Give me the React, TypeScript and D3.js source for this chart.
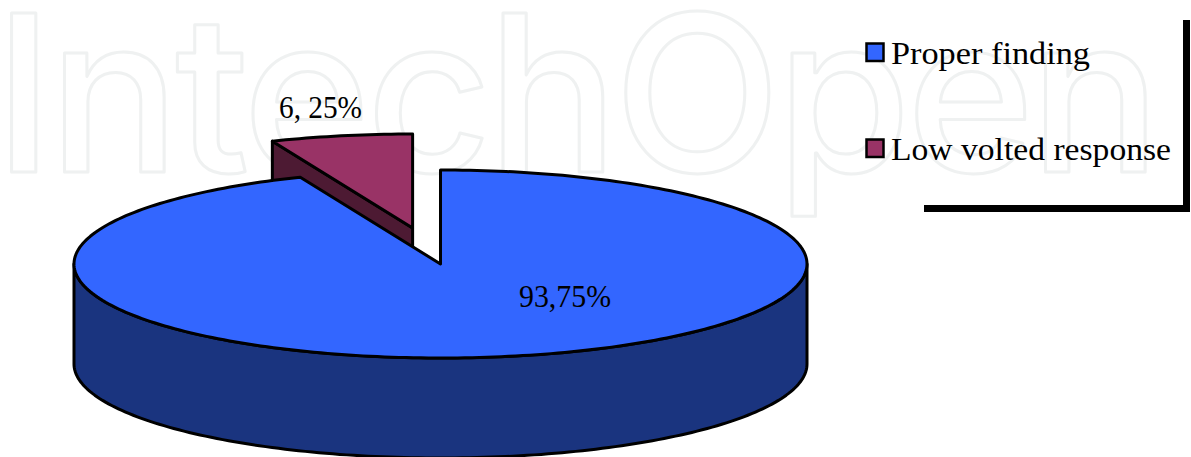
import React from "react";
import * as d3 from "d3";

const categories = ["Proper finding", "Low volted response"];
const values = [93.75, 6.25];
const sliceLabels = ["93,75%", "6, 25%"];
const topColors = ["#3366FF", "#993366"];
const sideColors = ["#1A347F", "#4D1A33"];
const watermark = "IntechOpen";

const W = 1191, H = 457;
const cx = 440.5, cy = 264, rx = 366.5, ry = 94, depth = 100, explode = 0.39;

const pieGen = d3.pie<number>().sort(null).startAngle(0).endAngle(2 * Math.PI);
const arcs = pieGen(values);

const px = d3.scaleLinear().domain([-1, 1]).range([cx - rx, cx + rx]);
const py = d3.scaleLinear().domain([-1, 1]).range([cy - ry, cy + ry]);
const line = d3.line<[number, number]>();

type Pt = [number, number];
const onRim = (a: number, ox: number, oy: number, dz = 0): Pt => [px(Math.sin(a)) + ox, py(-Math.cos(a)) + oy + dz];
const sample = (a0: number, a1: number) => {
  const n = Math.max(2, Math.ceil(Math.abs(a1 - a0) / 0.02));
  return d3.range(n + 1).map((i) => a0 + ((a1 - a0) * i) / n);
};

const blue = arcs[0], red = arcs[1];
const redMid = (red.startAngle + red.endAngle) / 2;
const ox = explode * rx * Math.sin(redMid);
const oy = -explode * ry * Math.cos(redMid);

const wedge = (a0: number, a1: number, dx: number, dy: number): string => {
  const pts: Pt[] = [[cx + dx, cy + dy], ...sample(a0, a1).map((a) => onRim(a, dx, dy))];
  return line(pts) + "Z";
};
const blueSide = (): string => {
  const angs = sample(Math.PI / 2, (3 * Math.PI) / 2);
  const pts: Pt[] = [...angs.map((a) => onRim(a, 0, 0)), ...angs.slice().reverse().map((a) => onRim(a, 0, 0, depth))];
  return line(pts) + "Z";
};
const redSide = (): string => {
  const e = onRim(red.startAngle, ox, oy);
  const pts: Pt[] = [[cx + ox, cy + oy], e, [e[0], e[1] + depth], [cx + ox, cy + oy + depth]];
  return line(pts) + "Z";
};

const serif = "'Liberation Serif', serif";
const legendY = [52.5, 148.5];
const legendTextWidth = [199, 280];

export default function App() {
  return (
    <svg width={W} height={H} viewBox={`0 0 ${W} ${H}`} style={{ position: "absolute", left: 0, top: 0, display: "block", background: "#fff" }}>
      <text x={-6} y={172} fontFamily="Inter, sans-serif" fontWeight={500} fontSize={218} fill="none" stroke="#EFF1F1" strokeWidth={3} strokeLinejoin="round" textLength={1167} lengthAdjust="spacing">
        {watermark}
      </text>

      <path d={redSide()} fill={sideColors[1]} stroke="#000" strokeWidth={3} strokeLinejoin="round" />
      <path d={wedge(red.startAngle, red.endAngle, ox, oy)} fill={topColors[1]} stroke="#000" strokeWidth={3} strokeLinejoin="round" />
      <path d={blueSide()} fill={sideColors[0]} stroke="#000" strokeWidth={3} strokeLinejoin="round" />
      <path d={wedge(blue.startAngle, blue.endAngle, 0, 0)} fill={topColors[0]} stroke="#000" strokeWidth={3} strokeLinejoin="round" />

      <text x={565} y={307} textAnchor="middle" fontFamily={serif} fontSize={31} fill="#000" textLength={92} lengthAdjust="spacingAndGlyphs">{sliceLabels[0]}</text>
      <text x={320.5} y={118} textAnchor="middle" fontFamily={serif} fontSize={31} fill="#000" textLength={83} lengthAdjust="spacingAndGlyphs">{sliceLabels[1]}</text>

      {categories.map((c, i) => (
        <g key={c}>
          <rect x={866.5} y={legendY[i] - 9} width={17} height={17.5} fill={topColors[i]} stroke="#000" strokeWidth={2.5} />
          <text x={891} y={legendY[i] + 11} fontFamily={serif} fontSize={32} fill="#000" textLength={legendTextWidth[i]} lengthAdjust="spacingAndGlyphs">{c}</text>
        </g>
      ))}

      <rect x={1183} y={20} width={7} height={192} fill="#000" />
      <rect x={924} y={205} width={266} height={7} fill="#000" />
    </svg>
  );
}
